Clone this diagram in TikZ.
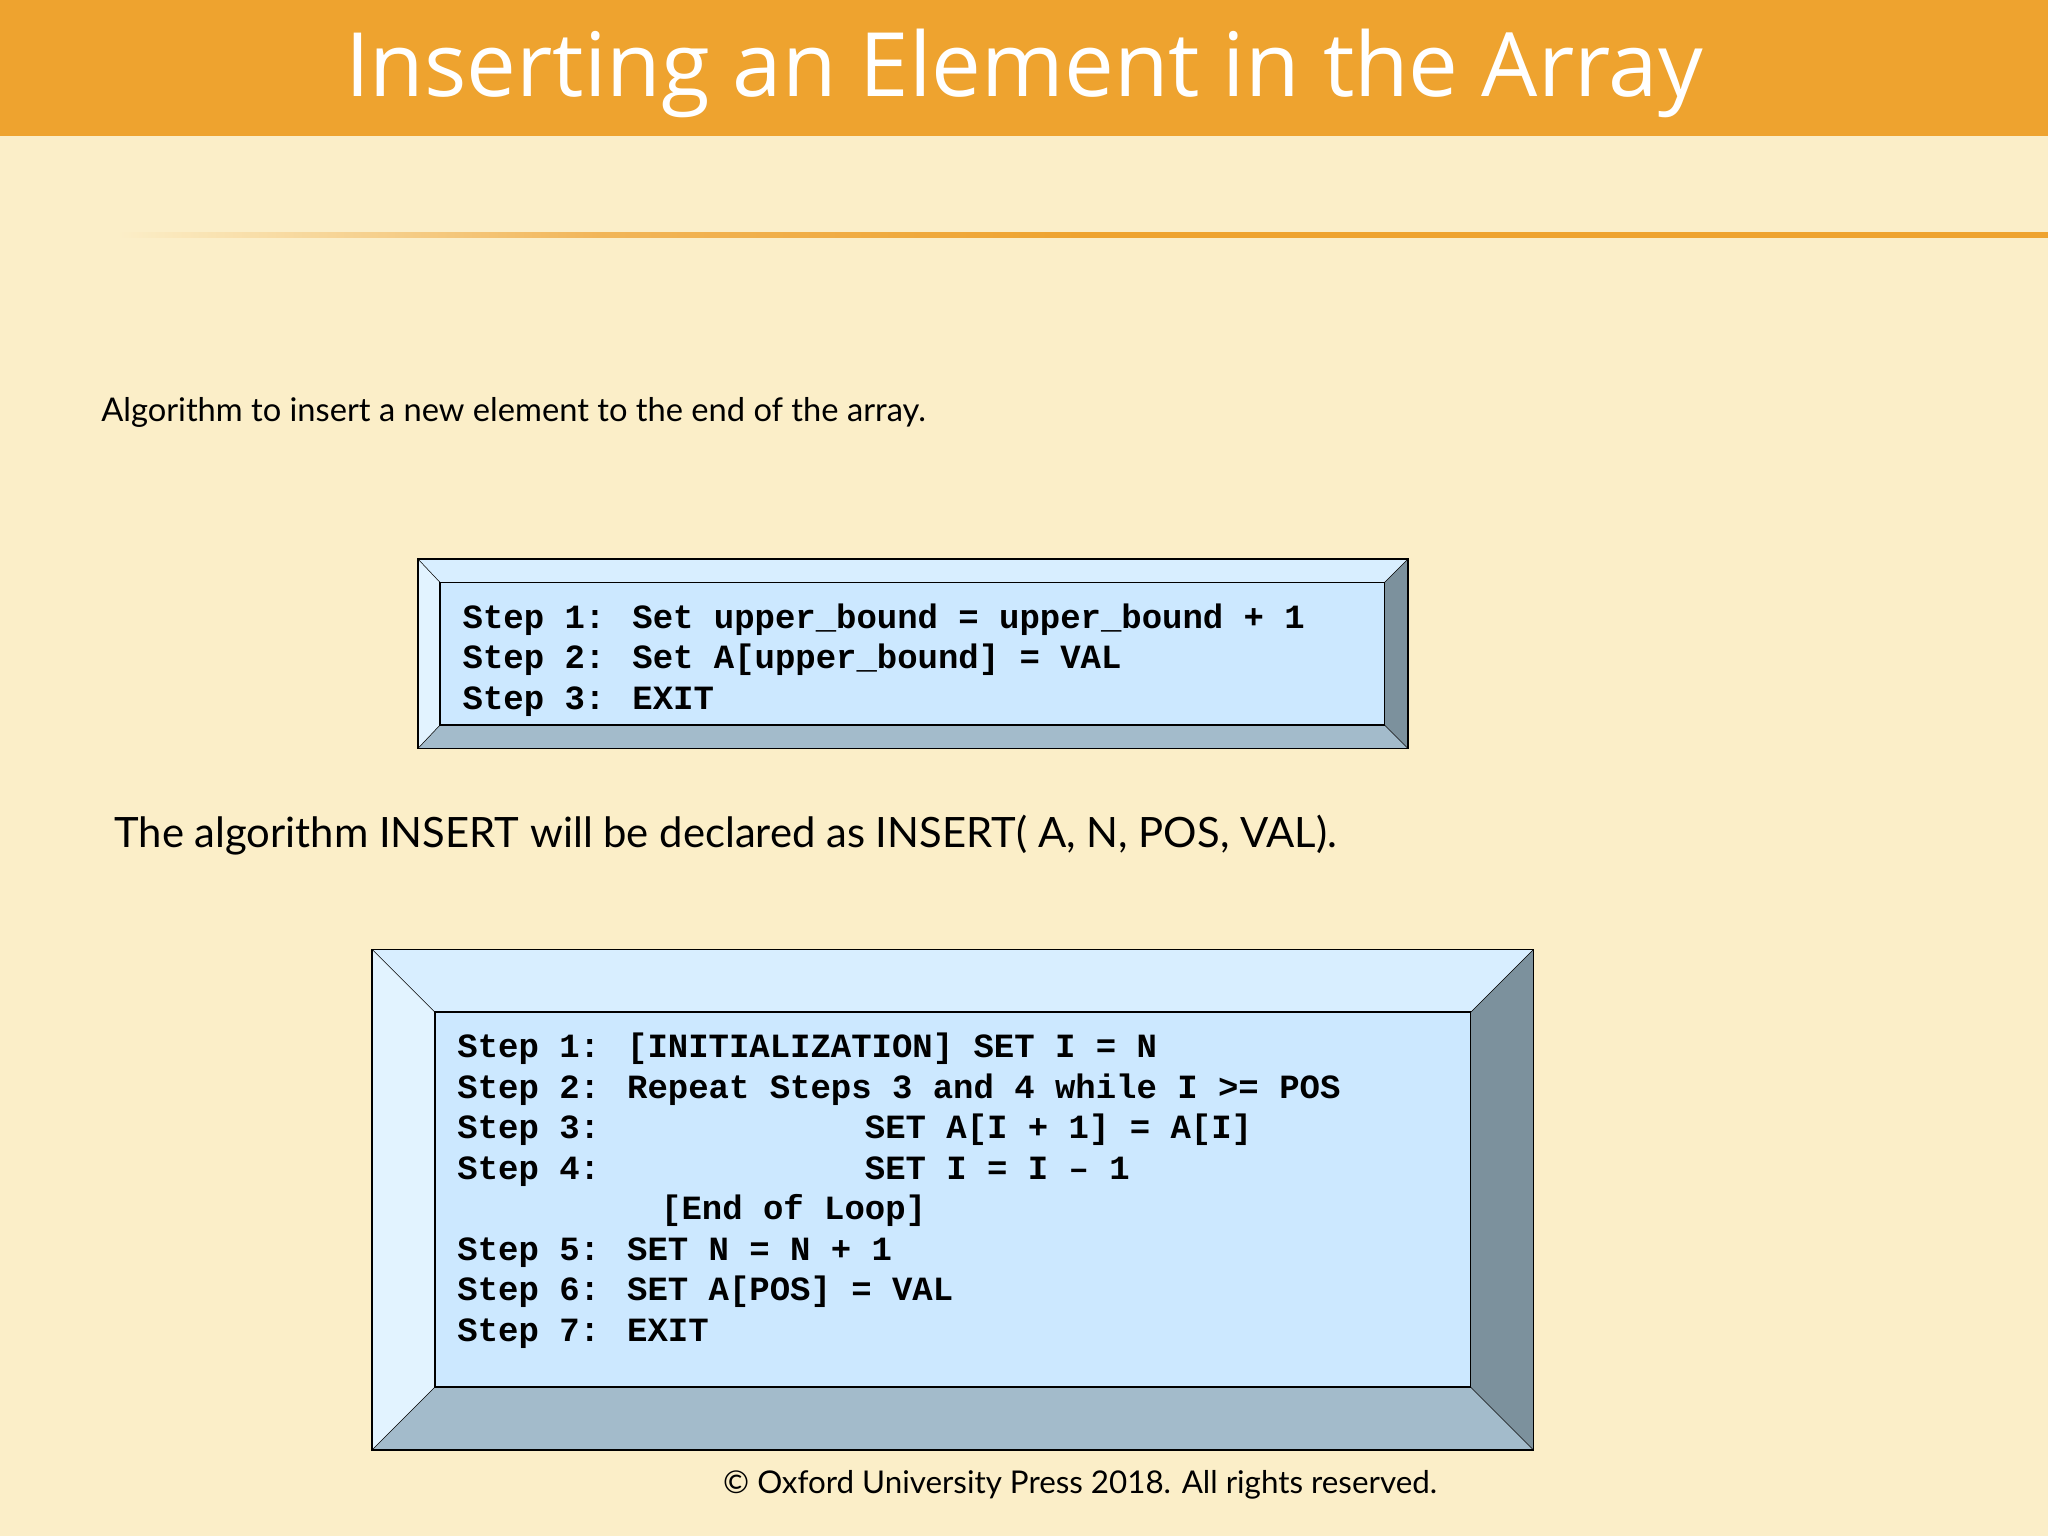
\documentclass[tikz,border=0pt]{standalone}
\usepackage{fontspec}
\setmainfont{Lato}
\newfontfamily\titlefont{Open Sans}
\newfontfamily\codefont{Liberation Mono}
\definecolor{bg}{HTML}{FBEEC8}
\definecolor{org}{HTML}{EEA32F}
\definecolor{inner}{HTML}{CCE8FF}
\definecolor{btop}{HTML}{D8EEFF}
\definecolor{bleft}{HTML}{E2F3FF}
\definecolor{bright}{HTML}{7C919D}
\definecolor{bbot}{HTML}{A3BBCB}
\tikzset{code/.style={anchor=base west,inner sep=0pt,font=\codefont\bfseries\fontsize{26}{31}\selectfont}}
\begin{document}
\begin{tikzpicture}[x=1pt,y=-1pt]
\fill[bg] (0,0) rectangle (1568,1176);
\fill[org] (0,0) rectangle (1568,104);
\node[text=white,font=\titlefont\fontsize{68}{80}\selectfont] (title) at (784,56) {Inserting an Element in the Array};
\shade[left color=bg,right color=org,middle color=org!80] (90,178) rectangle (830,182);
\fill[org] (830,178) rectangle (1568,182);
\node[anchor=west,font=\fontsize{25}{30}\selectfont] (t1) at (74,316) {Algorithm to insert a new element to the end of the array.};
% box 1
\def\bevbox#1#2#3#4#5#6#7#8{%
\fill[btop] (#1,#2)--(#3,#2)--(#7,#6)--(#5,#6)--cycle;
\fill[bleft] (#1,#2)--(#5,#6)--(#5,#8)--(#1,#4)--cycle;
\fill[bright] (#3,#2)--(#7,#6)--(#7,#8)--(#3,#4)--cycle;
\fill[bbot] (#1,#4)--(#5,#8)--(#7,#8)--(#3,#4)--cycle;
\fill[inner] (#5,#6) rectangle (#7,#8);
\draw[line width=1.2pt] (#1,#2) rectangle (#3,#4);
\draw[line width=1.2pt] (#5,#6) rectangle (#7,#8);
\draw (#1,#2)--(#5,#6) (#3,#2)--(#7,#6) (#1,#4)--(#5,#8) (#3,#4)--(#7,#8);}
\bevbox{320}{428}{1078}{573}{337}{446}{1060}{555}
\node[code] (a1) at (354,481) {Step 1: Set upper\_bound = upper\_bound + 1};
\node[code] (a2) at (354,512) {Step 2: Set A[upper\_bound] = VAL};
\node[code] (a3) at (354,543) {Step 3: EXIT};
\node[anchor=west,font=\fontsize{32}{38}\selectfont] (t2) at (84,639) {The algorithm INSERT will be declared as INSERT( A, N, POS, VAL).};
\bevbox{285}{727}{1174}{1110}{333}{775}{1126}{1062}
\node[code] (b1) at (350,810) {Step 1: [INITIALIZATION] SET I = N};
\node[code] (b2) at (350,841) {Step 2: Repeat Steps 3 and 4 while I >= POS};
\node[code] (b3) at (350,872) {Step 3:~~~~~~~~~~~~~SET A[I + 1] = A[I]};
\node[code] (b4) at (350,903) {Step 4:~~~~~~~~~~~~~SET I = I – 1};
\node[code] (b5) at (350,934) {~~~~~~~~~~[End of Loop]};
\node[code] (b6) at (350,965) {Step 5: SET N = N + 1};
\node[code] (b7) at (350,996) {Step 6: SET A[POS] = VAL};
\node[code] (b8) at (350,1027) {Step 7: EXIT};
\node[font=\fontsize{24}{28}\selectfont] (c) at (827,1137) {© Oxford University Press 2018. All rights reserved.};
\end{tikzpicture}
\end{document}
